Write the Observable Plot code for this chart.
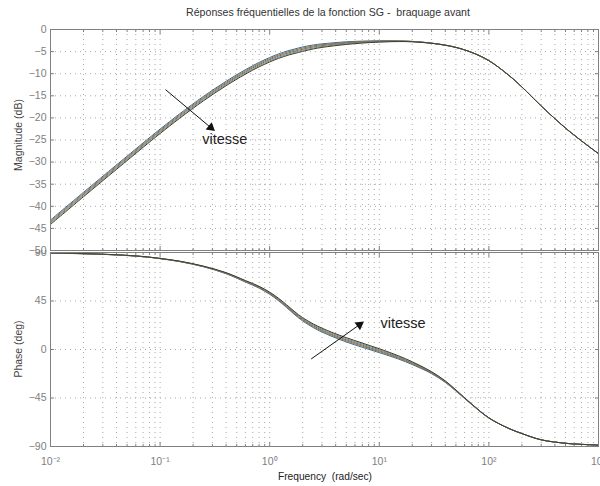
<!DOCTYPE html>
<html><head><meta charset="utf-8">
<script src="https://cdn.jsdelivr.net/npm/d3@7"></script>
<script src="https://cdn.jsdelivr.net/npm/@observablehq/plot@0.6"></script>
<style>
body{margin:0;background:#fff;}
#c{position:relative;width:600px;height:486px;font-family:"Liberation Sans",Arial,sans-serif;overflow:hidden;}
.t{position:absolute;white-space:pre;}
#c svg{position:absolute;left:0;}
</style></head><body><div id="c"></div>
<script>
// ---- data ----
const freqs = [0.01, 0.02, 0.04, 0.07, 0.1, 0.15, 0.25, 0.4, 0.6, 0.8, 1, 1.2, 1.5, 1.7, 2, 2.5, 3, 3.85, 5, 7, 10, 15, 20, 30, 40, 50, 70, 100, 150, 200, 300, 500, 700, 1000];
const speeds = ["v1", "v2", "v3", "v4", "v5"];
// magnitude (dB), one array per speed (lowest speed first)
const mag1 = [-43.1,-36.84,-30.64,-25.66,-22.53,-19.13,-15.09,-11.72,-9.1,-7.45,-6.35,-5.55,-4.75,-4.4,-3.95,-3.5,-3.25,-3.0,-2.78,-2.63,-2.55,-2.57,-2.68,-3.08,-3.55,-4.05,-5.2,-7.05,-10.25,-13.0,-17.3,-22.3,-25.2,-28.1];
const mag2 = [-43.35,-37.09,-30.89,-25.91,-22.78,-19.38,-15.34,-11.97,-9.35,-7.7,-6.6,-5.8,-5.0,-4.65,-4.2,-3.73,-3.45,-3.18,-2.93,-2.74,-2.63,-2.61,-2.71,-3.09,-3.55,-4.05,-5.2,-7.05,-10.25,-13.0,-17.3,-22.3,-25.2,-28.1];
const mag3 = [-43.6,-37.34,-31.14,-26.16,-23.03,-19.63,-15.59,-12.22,-9.6,-7.95,-6.85,-6.05,-5.25,-4.9,-4.45,-3.95,-3.65,-3.35,-3.08,-2.85,-2.7,-2.65,-2.73,-3.1,-3.55,-4.05,-5.2,-7.05,-10.25,-13.0,-17.3,-22.3,-25.2,-28.1];
const mag4 = [-43.85,-37.59,-31.39,-26.41,-23.28,-19.88,-15.84,-12.47,-9.85,-8.2,-7.1,-6.3,-5.5,-5.15,-4.7,-4.18,-3.85,-3.53,-3.23,-2.96,-2.78,-2.69,-2.76,-3.11,-3.55,-4.05,-5.2,-7.05,-10.25,-13.0,-17.3,-22.3,-25.2,-28.1];
const mag5 = [-44.1,-37.84,-31.64,-26.66,-23.53,-20.13,-16.09,-12.72,-10.1,-8.45,-7.35,-6.55,-5.75,-5.4,-4.95,-4.4,-4.05,-3.7,-3.38,-3.07,-2.85,-2.73,-2.78,-3.12,-3.55,-4.05,-5.2,-7.05,-10.25,-13.0,-17.3,-22.3,-25.2,-28.1];
// phase (deg), one array per speed
const ph1 = [89.4,88.8,87.7,86.1,84.3,81.6,76.7,70.3,62.6,56.95,51.2,45.35,37.0,32.1,26.5,20.3,16.2,11.4,7.0,2.05,-2.9,-8.9,-14.0,-22.4,-30.5,-38.5,-51.3,-63.6,-73.0,-78.0,-83.8,-87.0,-88.0,-88.7];
const ph2 = [89.45,88.85,87.75,86.15,84.35,81.7,76.85,70.55,62.95,57.38,51.7,45.93,37.65,32.8,27.25,21.15,17.1,12.35,8.0,3.03,-2.0,-8.15,-13.35,-21.95,-30.15,-38.25,-51.15,-63.55,-73.0,-78.0,-83.8,-87.0,-88.0,-88.7];
const ph3 = [89.5,88.9,87.8,86.2,84.4,81.8,77.0,70.8,63.3,57.8,52.2,46.5,38.3,33.5,28.0,22.0,18.0,13.3,9.0,4.0,-1.1,-7.4,-12.7,-21.5,-29.8,-38.0,-51.0,-63.5,-73.0,-78.0,-83.8,-87.0,-88.0,-88.7];
const ph4 = [89.55,88.95,87.85,86.25,84.45,81.9,77.15,71.05,63.65,58.23,52.7,47.08,38.95,34.2,28.75,22.85,18.9,14.25,10.0,4.98,-0.2,-6.65,-12.05,-21.05,-29.45,-37.75,-50.85,-63.45,-73.0,-78.0,-83.8,-87.0,-88.0,-88.7];
const ph5 = [89.6,89.0,87.9,86.3,84.5,82.0,77.3,71.3,64.0,58.65,53.2,47.65,39.6,34.9,29.5,23.7,19.8,15.2,11.0,5.95,0.7,-5.9,-11.4,-20.6,-29.1,-37.5,-50.7,-63.4,-73.0,-78.0,-83.8,-87.0,-88.0,-88.7];
const xMajor = [0.01, 0.1, 1, 10, 100, 1000];
const xMinorMult = [2, 3, 4, 5, 6, 7, 8, 9];
const magTicks = [0, -5, -10, -15, -20, -25, -30, -35, -40, -45, -50];
const phTicks = [90, 45, 0, -45, -90];
const titleText = "Réponses fréquentielles de la fonction SG -  braquage avant";
const magLabel = "Magnitude (dB)";
const phLabel = "Phase (deg)";
const xLabel = "Frequency  (rad/sec)";
// annotations (data coordinates)
const magArrow = [{x1: 0.112, y1: -13.6, x2: 0.29, y2: -22.2}];
const magNote = [{x: 0.242, y: -24.9, text: "vitesse"}];
const phArrow = [{x1: 2.39, y1: -8.8, x2: 6.6, y2: 23.0}];
const phNote = [{x: 10.26, y: 24.0, text: "vitesse"}];
const colors = ["#4a5f9a", "#5a8a48", "#b0544a", "#4a9a9a", "#4a3822"];

// ---- build ----
const magSeries = [mag1, mag2, mag3, mag4, mag5];
const phSeries = [ph1, ph2, ph3, ph4, ph5];
const magRows = speeds.flatMap((s, i) => freqs.map((f, j) => ({f, v: magSeries[i][j], s})));
const phRows = speeds.flatMap((s, i) => freqs.map((f, j) => ({f, v: phSeries[i][j], s})));
const xMinor = xMajor.slice(0, -1).flatMap(d => xMinorMult.map(m => d * m));
const sup = {"-": "⁻", "0": "⁰", "1": "¹", "2": "²", "3": "³"};
const fmtPow = d => "10" + String(Math.round(Math.log10(d))).split("").map(c => sup[c]).join("");
const FONT = "'Liberation Sans', Arial, sans-serif";
const grid = {stroke: "#a8a8a8", strokeDasharray: "1,4", strokeWidth: 1};
const tickCol = "#808080";

function frameMarks(yTicks, bottomLabels) {
  return [
    Plot.ruleX(xMinor, grid),
    Plot.ruleX(xMajor, grid),
    Plot.ruleY(yTicks, grid),
    Plot.axisY(yTicks, {anchor: "left", tickSize: -4, tickPadding: 8, label: null, fontSize: 10.5}),
    Plot.axisY(yTicks, {anchor: "right", tickSize: -4, tickFormat: () => "", label: null}),
    Plot.axisX(xMajor, {anchor: "bottom", tickSize: -4, tickPadding: 15, label: null,
      tickFormat: bottomLabels ? fmtPow : () => "", fontSize: 10.5}),
    Plot.axisX(xMinor, {anchor: "bottom", tickSize: -2, tickFormat: () => "", label: null}),
    Plot.axisX(xMajor, {anchor: "top", tickSize: -4, tickFormat: () => "", label: null}),
    Plot.axisX(xMinor, {anchor: "top", tickSize: -2, tickFormat: () => "", label: null})
  ];
}

const magPlot = Plot.plot({
  width: 600, height: 250, marginLeft: 50, marginRight: 2, marginTop: 29, marginBottom: 0,
  style: {fontFamily: FONT, color: tickCol, background: "transparent", overflow: "visible"},
  x: {type: "log", domain: [0.01, 1000]},
  y: {domain: [-50, 0]},
  color: {domain: speeds, range: colors},
  marks: [
    ...frameMarks(magTicks, false),
    Plot.line(magRows, {x: "f", y: "v", z: "s", stroke: "s", curve: "catmull-rom", strokeWidth: 1}),
    Plot.frame({stroke: "#808080"}),
    Plot.link(magArrow, {x1: "x1", y1: "y1", x2: "x2", y2: "y2", stroke: "#111", strokeWidth: 1}),
    Plot.dot(magArrow, {x: "x2", y: "y2", symbol: "triangle2", r: 4.5, fill: "#111", rotate: 130}),
    Plot.text(magNote, {x: "x", y: "y", text: "text", textAnchor: "start", fontSize: 14.5, fill: "#222"})
  ]
});
magPlot.style.top = "0px";

const phPlot = Plot.plot({
  width: 600, height: 236, marginLeft: 50, marginRight: 2, marginTop: 2, marginBottom: 40,
  style: {fontFamily: FONT, color: tickCol, background: "transparent"},
  x: {type: "log", domain: [0.01, 1000]},
  y: {domain: [-90, 90]},
  color: {domain: speeds, range: colors},
  marks: [
    ...frameMarks(phTicks, true),
    Plot.line(phRows, {x: "f", y: "v", z: "s", stroke: "s", curve: "catmull-rom", strokeWidth: 1}),
    Plot.frame({stroke: "#808080"}),
    Plot.link(phArrow, {x1: "x1", y1: "y1", x2: "x2", y2: "y2", stroke: "#111", strokeWidth: 1}),
    Plot.dot(phArrow, {x: "x2", y: "y2", symbol: "triangle2", r: 4.5, fill: "#111", rotate: 55}),
    Plot.text(phNote, {x: "x", y: "y", text: "text", textAnchor: "start", fontSize: 14.5, fill: "#222"})
  ]
});
phPlot.style.top = "250px";

const c = document.getElementById("c");
c.appendChild(phPlot);
c.appendChild(magPlot);
function addText(txt, css) {
  const d = document.createElement("div");
  d.className = "t";
  d.textContent = txt;
  Object.assign(d.style, css);
  c.appendChild(d);
}
addText(titleText, {left: "328px", top: "6px", transform: "translateX(-50%)", fontSize: "10.6px", color: "#333"});
addText(xLabel, {left: "325px", top: "471px", transform: "translateX(-50%)", fontSize: "10.2px", color: "#222"});
addText(magLabel, {left: "18px", top: "135px", transform: "translate(-50%,-50%) rotate(-90deg)", fontSize: "10.5px", color: "#444"});
addText(phLabel, {left: "18px", top: "349px", transform: "translate(-50%,-50%) rotate(-90deg)", fontSize: "10.5px", color: "#444"});
</script></body></html>
